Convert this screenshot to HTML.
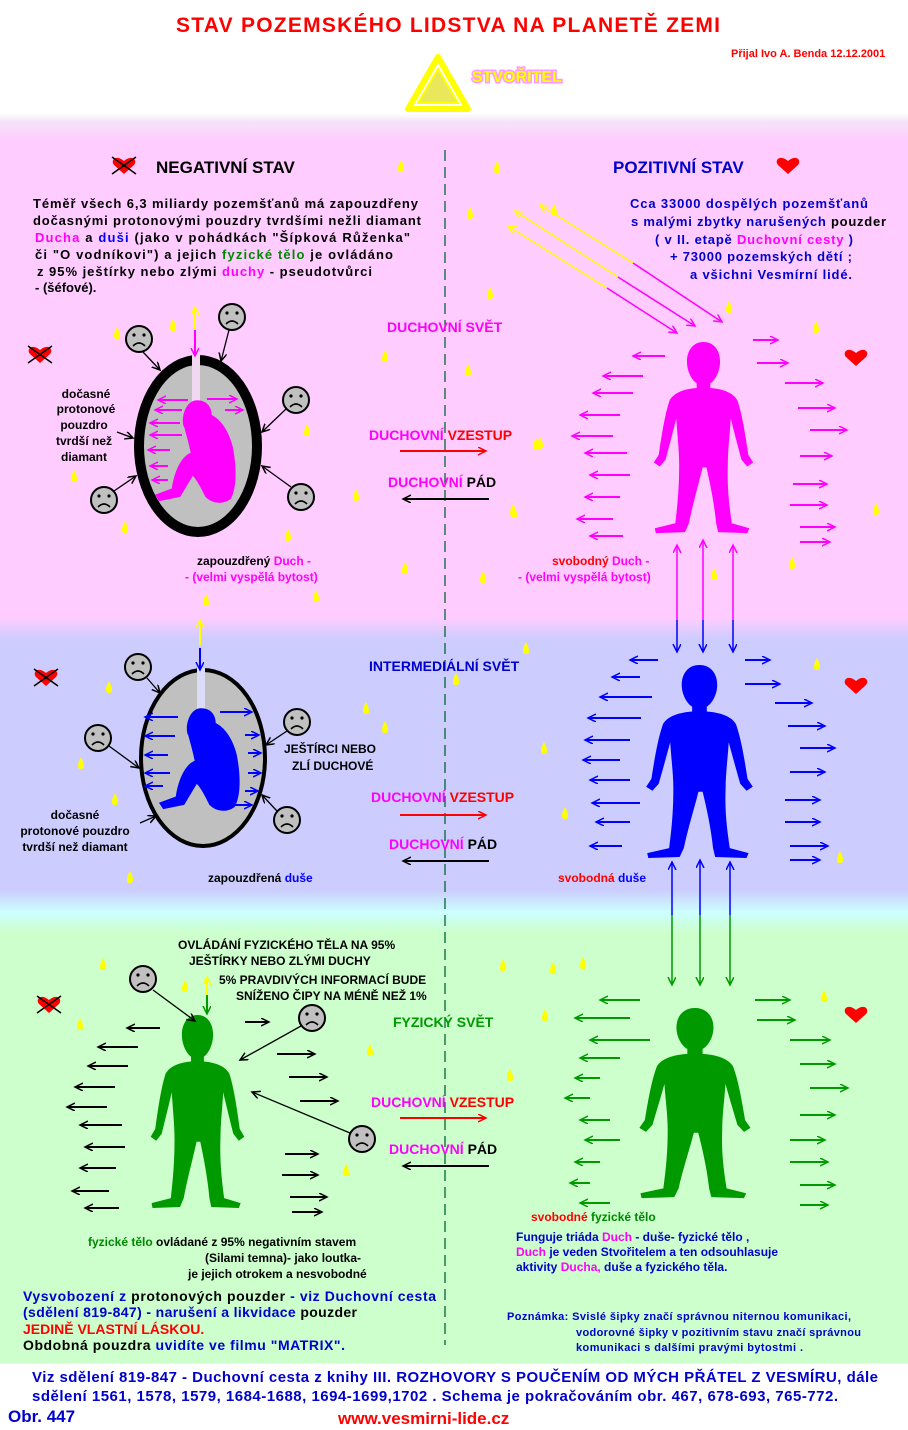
<!DOCTYPE html>
<html><head><meta charset="utf-8"><style>
html,body{margin:0;padding:0;}
body{width:908px;height:1430px;overflow:hidden;background:#fff;}
svg{display:block;font-family:"Liberation Sans",Arial,sans-serif;font-weight:bold;}
</style></head><body>
<svg width="908" height="1430" viewBox="0 0 908 1430" xmlns="http://www.w3.org/2000/svg">
<defs>
<linearGradient id="bg" x1="0" y1="0" x2="0" y2="1430" gradientUnits="userSpaceOnUse">
<stop offset="0" stop-color="#ffffff"/>
<stop offset="0.079" stop-color="#ffffff"/>
<stop offset="0.085" stop-color="#f4e4f8"/>
<stop offset="0.098" stop-color="#ffccff"/>
<stop offset="0.432" stop-color="#ffccff"/>
<stop offset="0.447" stop-color="#ccccff"/>
<stop offset="0.622" stop-color="#ccccff"/>
<stop offset="0.638" stop-color="#ccffff"/>
<stop offset="0.652" stop-color="#ccffcc"/>
<stop offset="0.953" stop-color="#ccffcc"/>
<stop offset="0.954" stop-color="#ffffff"/>
<stop offset="1" stop-color="#ffffff"/>
</linearGradient>
<marker id="mp" markerWidth="10" markerHeight="10" refX="8" refY="4" orient="auto-start-reverse" markerUnits="userSpaceOnUse"><path d="M0,0 L8,4 L0,8" fill="none" stroke="#ff00ff" stroke-width="1.5"/></marker>
<marker id="mb" markerWidth="10" markerHeight="10" refX="8" refY="4" orient="auto-start-reverse" markerUnits="userSpaceOnUse"><path d="M0,0 L8,4 L0,8" fill="none" stroke="#0000ff" stroke-width="1.5"/></marker>
<marker id="mg" markerWidth="10" markerHeight="10" refX="8" refY="4" orient="auto-start-reverse" markerUnits="userSpaceOnUse"><path d="M0,0 L8,4 L0,8" fill="none" stroke="#009900" stroke-width="1.5"/></marker>
<marker id="mk" markerWidth="10" markerHeight="10" refX="8" refY="4" orient="auto-start-reverse" markerUnits="userSpaceOnUse"><path d="M0,0 L8,4 L0,8" fill="none" stroke="#000" stroke-width="1.5"/></marker>
<marker id="mr" markerWidth="10" markerHeight="10" refX="8" refY="4" orient="auto-start-reverse" markerUnits="userSpaceOnUse"><path d="M0,0 L8,4 L0,8" fill="none" stroke="#ff0000" stroke-width="1.5"/></marker>
<marker id="my" markerWidth="10" markerHeight="10" refX="8" refY="4" orient="auto-start-reverse" markerUnits="userSpaceOnUse"><path d="M0,0 L8,4 L0,8" fill="none" stroke="#ffff00" stroke-width="1.5"/></marker>
<path id="fig" d="M55,0 C66,0 72,9 72,20 C72,31 66,40 62,42 L62,47 C75,48 86,52 90,60 C95,75 98,95 101,115 L106,123 L100,127 L94,120 C90,105 86,90 83,78 C82,95 80,110 80,125 C79,150 82,170 84,185 L102,190 L100,195 L70,194 L68,185 C66,165 62,145 58,128 L54,128 C50,145 44,165 40,185 L36,194 L6,195 L5,190 L26,185 C28,168 30,150 30,125 C30,110 28,95 27,78 C24,90 20,105 16,120 L10,127 L4,123 L9,115 C12,95 15,75 20,60 C24,52 35,48 48,47 L48,42 C44,40 38,31 38,20 C38,9 44,0 55,0 Z"/>
<path id="sit" d="M0,-14 C9,-14 14,-8 14,0 C22,4 30,14 34,30 C38,50 38,70 32,80 C24,86 14,84 8,78 C4,70 0,62 -4,58 L-16,78 L-36,82 L-40,76 L-24,70 C-22,56 -16,40 -6,36 C-8,26 -10,20 -12,12 C-16,6 -12,-14 0,-14 Z"/>
<g id="smile"><circle r="13" fill="#c0c0c0" stroke="#000" stroke-width="2"/><circle cx="-5" cy="-4" r="1.6"/><circle cx="5" cy="-4" r="1.6"/><path d="M-6,7 Q0,1 6,7" fill="none" stroke="#000" stroke-width="1.6"/></g>
<path id="heart" d="M0,8 L-10,-1 C-14,-6 -8,-12 0,-5 C8,-12 14,-6 10,-1 Z" fill="#ff0000"/>
<g id="xheart"><use href="#heart"/><path d="M-12,-9 L12,8 M12,-9 L-12,8" stroke="#000" stroke-width="1.5"/></g>
<path id="drop" d="M0,-6 C2,-2 3,0 3,3 C3,5 2,6 0,6 C-2,6 -3,5 -3,3 C-3,0 -2,-2 0,-6 Z" fill="#ffff00"/>
</defs>
<rect width="908" height="1430" fill="url(#bg)"/>

<!-- title -->
<text x="448" y="32" font-size="21" fill="#ff0000" text-anchor="middle" textLength="544">STAV POZEMSKÉHO LIDSTVA NA PLANETĚ ZEMI</text>
<text x="731" y="57" font-size="11" fill="#ff0000">Přijal Ivo A. Benda 12.12.2001</text>
<!-- logo -->
<g transform="translate(438,87)">
<path d="M0,-30 L30,22 L-30,22 Z" fill="none" stroke="#ffff00" stroke-width="6" stroke-linejoin="round"/>
<path d="M0,-18 L20,16 L-20,16 Z" fill="#e8e85a" stroke="#ffff00" stroke-width="2"/>
</g>
<text x="472" y="82" font-size="16" fill="#ffff00" stroke="#ff99ff" stroke-width="3" paint-order="stroke">STVOŘITEL</text>

<!-- dashed center line -->
<line x1="445" y1="150" x2="445" y2="1345" stroke="#006633" stroke-width="1.3" stroke-dasharray="11,6"/>

<!-- yellow drops -->
<g>
<use href="#drop" x="401" y="166"/><use href="#drop" x="497" y="167"/><use href="#drop" x="470" y="213"/><use href="#drop" x="490" y="293"/>
<use href="#drop" x="385" y="356"/><use href="#drop" x="468" y="370"/><use href="#drop" x="307" y="430"/><use href="#drop" x="536" y="444"/>
<use href="#drop" x="356" y="495"/><use href="#drop" x="514" y="512"/><use href="#drop" x="288" y="535"/><use href="#drop" x="125" y="527"/>
<use href="#drop" x="74" y="476"/><use href="#drop" x="405" y="568"/><use href="#drop" x="483" y="577"/><use href="#drop" x="316" y="596"/>
<use href="#drop" x="206" y="600"/><use href="#drop" x="117" y="333"/><use href="#drop" x="173" y="325"/><use href="#drop" x="554" y="210"/>
<use href="#drop" x="729" y="307"/><use href="#drop" x="816" y="327"/><use href="#drop" x="540" y="443"/><use href="#drop" x="513" y="510"/>
<use href="#drop" x="714" y="574"/><use href="#drop" x="792" y="563"/><use href="#drop" x="876" y="509"/>
<use href="#drop" x="109" y="687"/><use href="#drop" x="81" y="763"/><use href="#drop" x="115" y="799"/><use href="#drop" x="130" y="877"/>
<use href="#drop" x="385" y="727"/><use href="#drop" x="456" y="679"/><use href="#drop" x="526" y="648"/><use href="#drop" x="544" y="748"/>
<use href="#drop" x="565" y="813"/><use href="#drop" x="817" y="664"/><use href="#drop" x="840" y="857"/><use href="#drop" x="366" y="708"/>
<use href="#drop" x="503" y="965"/><use href="#drop" x="553" y="968"/><use href="#drop" x="103" y="964"/><use href="#drop" x="80" y="1024"/>
<use href="#drop" x="185" y="986"/><use href="#drop" x="370" y="1050"/><use href="#drop" x="346" y="1170"/><use href="#drop" x="545" y="1015"/>
<use href="#drop" x="824" y="996"/><use href="#drop" x="583" y="963"/><use href="#drop" x="510" y="1075"/>
</g>

<!-- headings -->
<use href="#xheart" x="124" y="166"/>
<text x="156" y="173" font-size="17" fill="#000">NEGATIVNÍ STAV</text>
<text x="613" y="173" font-size="17" fill="#0000cc">POZITIVNÍ STAV</text>
<use href="#heart" x="788" y="166"/>

<!-- left top text -->
<g font-size="13" fill="#000">
<text x="33" y="208" textLength="385">Téměř všech 6,3 miliardy pozemšťanů má zapouzdřeny</text>
<text x="33" y="225" textLength="388">dočasnými  protonovými pouzdry tvrdšími nežli diamant</text>
<text x="35" y="242" textLength="375"><tspan fill="#ff00ff">Ducha</tspan>  a  <tspan fill="#0000ff">duši</tspan>  (jako v pohádkách "Šípková Růženka"</text>
<text x="35" y="259" textLength="358">či "O vodníkovi")  a jejich  <tspan fill="#008800">fyzické tělo</tspan>  je ovládáno</text>
<text x="37" y="276" textLength="335">z 95% ještírky nebo zlými  <tspan fill="#ff00ff">duchy</tspan>  - pseudotvůrci</text>
<text x="35" y="292">- (šéfové).</text>
</g>
<!-- right top text -->
<g font-size="13" fill="#0000cc">
<text x="630" y="208" textLength="238">Cca 33000 dospělých pozemšťanů</text>
<text x="631" y="226" textLength="255">s malými zbytky narušených <tspan fill="#000">pouzder</tspan></text>
<text x="655" y="244" textLength="198">( v II. etapě <tspan fill="#ff00ff">Duchovní cesty</tspan> )</text>
<text x="670" y="261" textLength="182">+ 73000 pozemských dětí ;</text>
<text x="690" y="279" textLength="162">a všichni Vesmírní lidé.</text>
</g>

<!-- diagonal arrows -->
<g stroke-width="1.5" fill="none">
<line x1="633" y1="263" x2="540" y2="205" stroke="#ffff00" marker-end="url(#my)"/>
<line x1="633" y1="263" x2="722" y2="322" stroke="#ff00ff" marker-end="url(#mp)"/>
<line x1="618" y1="277" x2="515" y2="211" stroke="#ffff00" marker-end="url(#my)"/>
<line x1="618" y1="277" x2="695" y2="326" stroke="#ff00ff" marker-end="url(#mp)"/>
<line x1="607" y1="288" x2="508" y2="226" stroke="#ffff00" marker-end="url(#my)"/>
<line x1="607" y1="288" x2="677" y2="333" stroke="#ff00ff" marker-end="url(#mp)"/>
</g>

<!-- pink capsule -->
<use href="#xheart" x="40" y="355"/>
<ellipse cx="198" cy="446" rx="59" ry="86" fill="#c0c0c0" stroke="#000" stroke-width="10"/>
<rect x="192" y="352" width="8" height="60" fill="#f0d8f0"/>
<line x1="195" y1="352" x2="195" y2="307" stroke="#ffff00" stroke-width="2" marker-end="url(#my)"/>
<line x1="195" y1="330" x2="195" y2="356" stroke="#ff00ff" stroke-width="2" marker-end="url(#mp)"/>
<use href="#sit" x="197" y="415" fill="#ff00ff" transform="translate(197,415) scale(1.05) translate(-197,-415)"/>
<g stroke="#ff00ff" stroke-width="2" fill="none" marker-end="url(#mp)">
<line x1="188" y1="400" x2="158" y2="400"/><line x1="182" y1="410" x2="155" y2="410"/><line x1="180" y1="423" x2="150" y2="423"/>
<line x1="182" y1="435" x2="150" y2="435"/><line x1="170" y1="450" x2="148" y2="450"/><line x1="168" y1="466" x2="150" y2="466"/><line x1="168" y1="480" x2="152" y2="480"/>
<line x1="207" y1="399" x2="237" y2="399"/><line x1="225" y1="410" x2="243" y2="410"/>
</g>
<g>
<use href="#smile" x="139" y="339"/><use href="#smile" x="232" y="317"/><use href="#smile" x="296" y="400"/><use href="#smile" x="301" y="497"/><use href="#smile" x="104" y="500"/>
</g>
<g stroke="#000" stroke-width="1.3" marker-end="url(#mk)">
<line x1="143" y1="352" x2="160" y2="370"/><line x1="229" y1="330" x2="221" y2="361"/><line x1="286" y1="409" x2="262" y2="432"/>
<line x1="291" y1="487" x2="262" y2="466"/><line x1="114" y1="491" x2="136" y2="476"/><line x1="117" y1="432" x2="133" y2="438"/>
</g>
<g font-size="12" fill="#000" text-anchor="middle">
<text x="86" y="398">dočasné</text><text x="86" y="413">protonové</text><text x="84" y="429">pouzdro</text><text x="84" y="445">tvrdší než</text><text x="84" y="461">diamant</text>
</g>
<text x="197" y="565" font-size="12" fill="#000">zapouzdřený  <tspan fill="#ff00ff">Duch -</tspan></text>
<text x="185" y="581" font-size="12" fill="#ff00ff">- (velmi vyspělá bytost)</text>

<!-- middle labels pink -->
<text x="387" y="332" font-size="14" fill="#ff00ff">DUCHOVNÍ SVĚT</text>
<text x="369" y="440" font-size="14" fill="#ff00ff">DUCHOVNÍ <tspan fill="#ff0000">VZESTUP</tspan></text>
<line x1="400" y1="451" x2="486" y2="451" stroke="#ff0000" stroke-width="2" marker-end="url(#mr)"/>
<text x="388" y="487" font-size="14" fill="#ff00ff">DUCHOVNÍ <tspan fill="#000">PÁD</tspan></text>
<line x1="489" y1="499" x2="403" y2="499" stroke="#000" stroke-width="2" marker-end="url(#mk)"/>

<!-- pink positive figure -->
<use href="#heart" x="856" y="358"/>
<use href="#fig" fill="#ff00ff" transform="translate(650,342) scale(0.973,0.98)"/>
<g stroke="#ff00ff" stroke-width="2" marker-end="url(#mp)">
<line x1="665" y1="356" x2="633" y2="356"/><line x1="643" y1="376" x2="603" y2="376"/><line x1="633" y1="393" x2="593" y2="393"/>
<line x1="620" y1="415" x2="580" y2="415"/><line x1="613" y1="436" x2="572" y2="436"/><line x1="627" y1="453" x2="585" y2="453"/>
<line x1="630" y1="475" x2="590" y2="475"/><line x1="620" y1="497" x2="585" y2="497"/><line x1="613" y1="519" x2="577" y2="519"/><line x1="623" y1="536" x2="590" y2="536"/>
<line x1="753" y1="340" x2="778" y2="340"/><line x1="757" y1="363" x2="788" y2="363"/><line x1="785" y1="383" x2="823" y2="383"/>
<line x1="798" y1="408" x2="835" y2="408"/><line x1="810" y1="430" x2="847" y2="430"/><line x1="800" y1="456" x2="832" y2="456"/>
<line x1="793" y1="484" x2="827" y2="484"/><line x1="790" y1="505" x2="827" y2="505"/><line x1="800" y1="527" x2="835" y2="527"/><line x1="800" y1="542" x2="830" y2="542"/>
</g>
<text x="552" y="565" font-size="12" fill="#ff0000">svobodný  <tspan fill="#ff00ff">Duch -</tspan></text>
<text x="518" y="581" font-size="12" fill="#ff00ff">- (velmi vyspělá bytost)</text>

<!-- vertical pink/blue -->
<g stroke-width="1.5">
<line x1="677" y1="545" x2="677" y2="620" stroke="#ff00ff" marker-start="url(#mp)"/><line x1="677" y1="620" x2="677" y2="652" stroke="#0000ff" marker-end="url(#mb)"/>
<line x1="703" y1="540" x2="703" y2="620" stroke="#ff00ff" marker-start="url(#mp)"/><line x1="703" y1="620" x2="703" y2="652" stroke="#0000ff" marker-end="url(#mb)"/>
<line x1="733" y1="545" x2="733" y2="620" stroke="#ff00ff" marker-start="url(#mp)"/><line x1="733" y1="620" x2="733" y2="652" stroke="#0000ff" marker-end="url(#mb)"/>
</g>

<!-- blue section -->
<use href="#xheart" x="46" y="678"/>
<text x="369" y="671" font-size="14" fill="#0000cc">INTERMEDIÁLNÍ SVĚT</text>
<ellipse cx="203" cy="758" rx="62" ry="88" fill="#c0c0c0" stroke="#000" stroke-width="4"/>
<rect x="197" y="668" width="8" height="50" fill="#dcdcf8"/>
<line x1="200" y1="645" x2="200" y2="620" stroke="#ffff00" stroke-width="2" marker-end="url(#my)"/>
<line x1="200" y1="648" x2="200" y2="670" stroke="#0000ff" stroke-width="2" marker-end="url(#mb)"/>
<use href="#sit" fill="#0000ff" transform="translate(201,723) scale(1.05)"/>
<g stroke="#0000ff" stroke-width="2" marker-end="url(#mb)">
<line x1="178" y1="717" x2="145" y2="717"/><line x1="175" y1="736" x2="145" y2="736"/><line x1="168" y1="755" x2="145" y2="755"/>
<line x1="170" y1="773" x2="145" y2="773"/><line x1="163" y1="786" x2="145" y2="786"/>
<line x1="220" y1="712" x2="252" y2="712"/><line x1="245" y1="735" x2="259" y2="735"/><line x1="248" y1="753" x2="261" y2="753"/>
<line x1="248" y1="773" x2="261" y2="773"/><line x1="245" y1="791" x2="258" y2="791"/><line x1="233" y1="805" x2="252" y2="805"/>
</g>
<use href="#smile" x="138" y="667"/><use href="#smile" x="98" y="738"/><use href="#smile" x="297" y="722"/><use href="#smile" x="287" y="820"/>
<g stroke="#000" stroke-width="1.3" marker-end="url(#mk)">
<line x1="147" y1="678" x2="160" y2="693"/><line x1="109" y1="746" x2="139" y2="768"/><line x1="287" y1="731" x2="266" y2="745"/>
<line x1="277" y1="811" x2="262" y2="795"/><line x1="140" y1="823" x2="156" y2="816"/>
</g>
<text x="284" y="753" font-size="12" fill="#000">JEŠTÍRCI NEBO</text>
<text x="292" y="770" font-size="12" fill="#000">ZLÍ DUCHOVÉ</text>
<g font-size="12" fill="#000" text-anchor="middle">
<text x="75" y="819">dočasné</text><text x="75" y="835">protonové pouzdro</text><text x="75" y="851">tvrdší než diamant</text>
</g>
<text x="208" y="882" font-size="12" fill="#000">zapouzdřená <tspan fill="#0000ff">duše</tspan></text>
<text x="371" y="802" font-size="14" fill="#ff00ff">DUCHOVNÍ <tspan fill="#ff0000">VZESTUP</tspan></text>
<line x1="400" y1="815" x2="486" y2="815" stroke="#ff0000" stroke-width="2" marker-end="url(#mr)"/>
<text x="389" y="849" font-size="14" fill="#ff00ff">DUCHOVNÍ <tspan fill="#000">PÁD</tspan></text>
<line x1="489" y1="861" x2="403" y2="861" stroke="#000" stroke-width="2" marker-end="url(#mk)"/>

<use href="#heart" x="856" y="686"/>
<use href="#fig" fill="#0000ff" transform="translate(642,665) scale(1.045,0.99)"/>
<g stroke="#0000ff" stroke-width="2" marker-end="url(#mb)">
<line x1="658" y1="660" x2="630" y2="660"/><line x1="640" y1="677" x2="612" y2="677"/><line x1="652" y1="697" x2="600" y2="697"/>
<line x1="641" y1="718" x2="588" y2="718"/><line x1="630" y1="740" x2="585" y2="740"/><line x1="620" y1="760" x2="583" y2="760"/>
<line x1="630" y1="780" x2="590" y2="780"/><line x1="640" y1="803" x2="592" y2="803"/><line x1="630" y1="822" x2="596" y2="822"/><line x1="622" y1="846" x2="590" y2="846"/>
<line x1="745" y1="660" x2="770" y2="660"/><line x1="745" y1="684" x2="780" y2="684"/><line x1="775" y1="703" x2="812" y2="703"/>
<line x1="788" y1="726" x2="825" y2="726"/><line x1="800" y1="748" x2="835" y2="748"/><line x1="790" y1="772" x2="825" y2="772"/>
<line x1="785" y1="800" x2="820" y2="800"/><line x1="785" y1="822" x2="820" y2="822"/><line x1="790" y1="846" x2="828" y2="846"/><line x1="790" y1="860" x2="820" y2="860"/>
</g>
<text x="558" y="882" font-size="12" fill="#ff0000">svobodná  <tspan fill="#0000ff">duše</tspan></text>

<!-- vertical blue/green -->
<g stroke-width="1.5">
<line x1="672" y1="862" x2="672" y2="915" stroke="#0000ff" marker-start="url(#mb)"/><line x1="672" y1="915" x2="672" y2="985" stroke="#009900" marker-end="url(#mg)"/>
<line x1="700" y1="860" x2="700" y2="915" stroke="#0000ff" marker-start="url(#mb)"/><line x1="700" y1="915" x2="700" y2="985" stroke="#009900" marker-end="url(#mg)"/>
<line x1="730" y1="862" x2="730" y2="915" stroke="#0000ff" marker-start="url(#mb)"/><line x1="730" y1="915" x2="730" y2="985" stroke="#009900" marker-end="url(#mg)"/>
</g>

<!-- green section -->
<use href="#xheart" x="49" y="1005"/>
<g font-size="12" fill="#000">
<text x="178" y="949">OVLÁDÁNÍ FYZICKÉHO TĚLA  NA 95%</text>
<text x="189" y="965">JEŠTÍRKY NEBO ZLÝMI DUCHY</text>
<text x="219" y="984">5% PRAVDIVÝCH INFORMACÍ BUDE</text>
<text x="236" y="1000">SNÍŽENO ČIPY NA MÉNĚ NEŽ 1%</text>
</g>
<text x="393" y="1027" font-size="14" fill="#009900">FYZICKÝ SVĚT</text>
<use href="#fig" fill="#009900" transform="translate(147,1015) scale(0.918,0.99)"/>
<line x1="207" y1="1012" x2="207" y2="977" stroke="#ffff00" stroke-width="2" marker-end="url(#my)"/>
<line x1="207" y1="995" x2="207" y2="1014" stroke="#009900" stroke-width="2" marker-end="url(#mg)"/>
<use href="#smile" x="143" y="979"/><use href="#smile" x="312" y="1018"/><use href="#smile" x="362" y="1139"/>
<g stroke="#000" stroke-width="1.3" marker-end="url(#mk)">
<line x1="153" y1="990" x2="195" y2="1021"/><line x1="301" y1="1026" x2="240" y2="1060"/><line x1="350" y1="1133" x2="252" y2="1092"/>
</g>
<g stroke="#000" stroke-width="2" marker-end="url(#mk)">
<line x1="160" y1="1028" x2="127" y2="1028"/><line x1="138" y1="1047" x2="98" y2="1047"/><line x1="128" y1="1066" x2="88" y2="1066"/>
<line x1="115" y1="1087" x2="75" y2="1087"/><line x1="107" y1="1107" x2="67" y2="1107"/><line x1="122" y1="1125" x2="80" y2="1125"/>
<line x1="125" y1="1147" x2="85" y2="1147"/><line x1="116" y1="1168" x2="80" y2="1168"/><line x1="109" y1="1191" x2="72" y2="1191"/><line x1="119" y1="1208" x2="85" y2="1208"/>
<line x1="245" y1="1022" x2="269" y2="1022"/><line x1="277" y1="1054" x2="315" y2="1054"/><line x1="289" y1="1077" x2="327" y2="1077"/>
<line x1="300" y1="1101" x2="338" y2="1101"/><line x1="285" y1="1154" x2="318" y2="1154"/><line x1="282" y1="1175" x2="318" y2="1175"/>
<line x1="290" y1="1197" x2="327" y2="1197"/><line x1="292" y1="1212" x2="322" y2="1212"/>
</g>
<text x="371" y="1107" font-size="14" fill="#ff00ff">DUCHOVNÍ <tspan fill="#ff0000">VZESTUP</tspan></text>
<line x1="400" y1="1118" x2="486" y2="1118" stroke="#ff0000" stroke-width="2" marker-end="url(#mr)"/>
<text x="389" y="1154" font-size="14" fill="#ff00ff">DUCHOVNÍ <tspan fill="#000">PÁD</tspan></text>
<line x1="489" y1="1166" x2="403" y2="1166" stroke="#000" stroke-width="2" marker-end="url(#mk)"/>
<g font-size="12" fill="#000">
<text x="88" y="1246"><tspan fill="#008800">fyzické tělo</tspan>  ovládané z 95% negativním  stavem</text>
<text x="205" y="1262">(Silami temna)- jako loutka-</text>
<text x="188" y="1278">je jejich otrokem a nesvobodné</text>
</g>

<use href="#heart" x="856" y="1015"/>
<use href="#fig" fill="#009900" transform="translate(635,1008) scale(1.09,0.975)"/>
<g stroke="#009900" stroke-width="2" marker-end="url(#mg)">
<line x1="640" y1="1000" x2="600" y2="1000"/><line x1="630" y1="1018" x2="575" y2="1018"/><line x1="650" y1="1040" x2="590" y2="1040"/>
<line x1="620" y1="1058" x2="580" y2="1058"/><line x1="600" y1="1078" x2="575" y2="1078"/><line x1="590" y1="1098" x2="565" y2="1098"/>
<line x1="610" y1="1120" x2="580" y2="1120"/><line x1="620" y1="1140" x2="585" y2="1140"/><line x1="600" y1="1162" x2="575" y2="1162"/>
<line x1="590" y1="1183" x2="570" y2="1183"/><line x1="610" y1="1203" x2="580" y2="1203"/>
<line x1="755" y1="1000" x2="790" y2="1000"/><line x1="757" y1="1020" x2="795" y2="1020"/><line x1="790" y1="1040" x2="830" y2="1040"/>
<line x1="800" y1="1064" x2="835" y2="1064"/><line x1="810" y1="1088" x2="848" y2="1088"/><line x1="800" y1="1115" x2="835" y2="1115"/>
<line x1="790" y1="1140" x2="825" y2="1140"/><line x1="790" y1="1162" x2="828" y2="1162"/><line x1="800" y1="1185" x2="835" y2="1185"/><line x1="800" y1="1205" x2="828" y2="1205"/>
</g>
<text x="531" y="1221" font-size="12" fill="#ff0000">svobodné  <tspan fill="#008800">fyzické tělo</tspan></text>
<g font-size="12" fill="#0000cc">
<text x="516" y="1241">Funguje triáda <tspan fill="#ff00ff">Duch</tspan> - duše- fyzické tělo ,</text>
<text x="516" y="1256"><tspan fill="#ff00ff">Duch</tspan>  je veden Stvořitelem a ten odsouhlasuje</text>
<text x="516" y="1271">aktivity <tspan fill="#ff00ff">Ducha,</tspan> duše a  fyzického těla.</text>
</g>

<!-- bottom left -->
<g font-size="14" fill="#0000cc">
<text x="23" y="1301" textLength="413">Vysvobození z  <tspan fill="#000">protonových pouzder</tspan> - viz Duchovní cesta</text>
<text x="23" y="1317" textLength="334">(sdělení 819-847) - narušení a likvidace <tspan fill="#000">pouzder</tspan></text>
<text x="23" y="1334" fill="#ff0000">JEDINĚ VLASTNÍ LÁSKOU.</text>
<text x="23" y="1350" textLength="322"><tspan fill="#000">Obdobná pouzdra</tspan>  uvidíte ve filmu "MATRIX".</text>
</g>
<g font-size="11" fill="#0000cc">
<text x="507" y="1320" textLength="344">Poznámka: Svislé šipky značí správnou niternou komunikaci,</text>
<text x="576" y="1336" textLength="285">vodorovné šipky v pozitivním stavu značí správnou</text>
<text x="576" y="1351" textLength="227">komunikaci s dalšími pravými bytostmi .</text>
</g>

<!-- footer -->
<g font-size="15" fill="#0000cc" font-weight="normal">
<text x="32" y="1382" textLength="846" font-weight="bold">Viz sdělení 819-847 - Duchovní cesta z knihy III. ROZHOVORY S POUČENÍM OD MÝCH PŘÁTEL Z VESMÍRU, dále</text>
<text x="32" y="1401" textLength="806" font-weight="bold">sdělení 1561, 1578, 1579, 1684-1688, 1694-1699,1702 .   Schema je pokračováním obr. 467, 678-693, 765-772.</text>
</g>
<text x="8" y="1422" font-size="17" fill="#0000cc">Obr. 447</text>
<text x="338" y="1424" font-size="17" fill="#ff0000">www.vesmirni-lide.cz</text>
</svg>
</body></html>
